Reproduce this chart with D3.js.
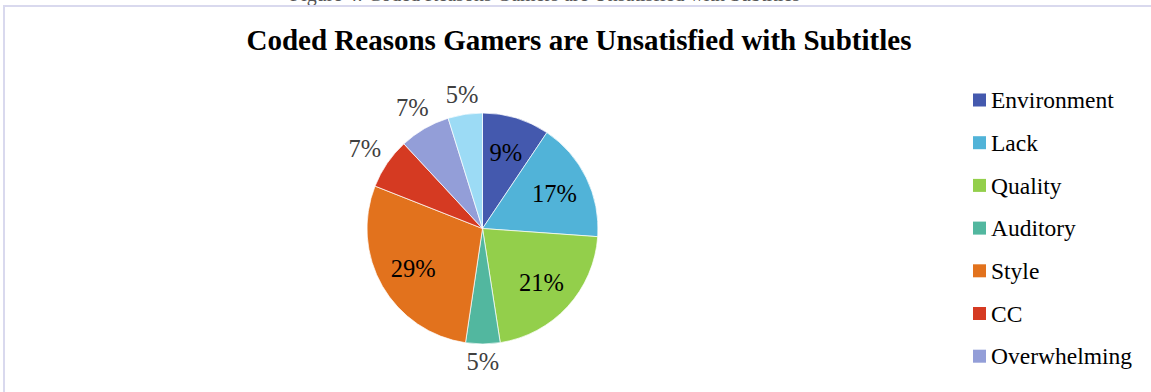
<!DOCTYPE html>
<html>
<head>
<meta charset="utf-8">
<script src="https://cdn.jsdelivr.net/npm/d3@7"></script>
<style>
  html, body { margin: 0; padding: 0; background: #fff; }
  svg { display: block; }
</style>
</head>
<body>
<svg id="chart" width="1151" height="392"></svg>
<script>
// Share of coded reasons (percent of responses)
const categories = ["Environment", "Lack", "Quality", "Auditory", "Style", "CC", "Overwhelming", "Other"];
const shares = [9.4, 16.7, 21.4, 4.8, 28.6, 7.1, 7.1, 4.8];
const colors = ["#4459ae", "#51b3d8", "#93cf4b", "#52b79f", "#e2721d", "#d53a22", "#939ed8", "#9cdbf5"];
// Slices whose percentage is written inside the pie
const insideLabels = ["Environment", "Lack", "Quality", "Style"];

const captionText = "Figure 4: Coded Reasons Gamers are Unsatisfied with Subtitles";
const titleText = "Coded Reasons Gamers are Unsatisfied with Subtitles";

const svg = d3.select("#chart");
const W = 1151, H = 392;
const serif = "'Liberation Serif', 'Times New Roman', serif";

// Caption above the chart frame (only its lower edge shows)
svg.append("text")
  .attr("x", 545).attr("y", 1)
  .attr("text-anchor", "middle")
  .attr("font-family", serif).attr("font-size", 20)
  .attr("fill", "#555")
  .text(captionText);

// Chart frame (top and left edges)
svg.append("path")
  .attr("d", `M4,${H} L4,6 L${W},6`)
  .attr("fill", "none")
  .attr("stroke", "#d9d9ee")
  .attr("stroke-width", 2);

// Title
svg.append("text")
  .attr("x", 579).attr("y", 50)
  .attr("text-anchor", "middle")
  .attr("font-family", serif).attr("font-weight", "bold").attr("font-size", 29)
  .attr("fill", "#000")
  .text(titleText);

// Pie
const cx = 482.5, cy = 228.5, R = 115.5;
const data = categories.map((c, i) => ({ cat: c, value: shares[i], color: colors[i] }));
const total = d3.sum(shares);

const pie = d3.pie().value(d => d.value).sort(null);
const arcs = pie(data);
const arc = d3.arc().innerRadius(0).outerRadius(R);

const g = svg.append("g").attr("transform", `translate(${cx},${cy})`);

g.selectAll("path.slice")
  .data(arcs)
  .join("path")
  .attr("class", "slice")
  .attr("d", arc)
  .attr("fill", d => d.data.color)
  .attr("stroke", "#fff")
  .attr("stroke-width", 0.7);

// Percentage labels
const labelSize = 24.5;
const pct = d => Math.round(d.data.value / total * 100) + "%";
const inner = d3.arc().innerRadius(80).outerRadius(80);

g.selectAll("text.pct")
  .data(arcs)
  .join("text")
  .attr("class", "pct")
  .attr("text-anchor", "middle")
  .attr("dy", "0.35em")
  .attr("font-family", serif).attr("font-size", labelSize)
  .attr("fill", d => insideLabels.includes(d.data.cat) ? "#000" : "#404040")
  .text(pct)
  .each(function (d) {
    const sel = d3.select(this);
    if (insideLabels.includes(d.data.cat)) {
      const [x, y] = inner.centroid(d);
      sel.attr("x", x).attr("y", y);
    } else {
      // Place the label box just outside the rim along the slice's mid-angle
      const a = (d.startAngle + d.endAngle) / 2;
      const w = this.getComputedTextLength();
      const h = labelSize * 0.8;
      const s = Math.sin(a), c = -Math.cos(a);
      const off = R + 8 + Math.abs(s) * w / 2 + Math.abs(c) * h / 2;
      sel.attr("x", s * off).attr("y", c * off);
    }
  });

// Legend: one row per category, as many rows as fit in the frame
const legendTop = 100, rowGap = 42.7;
const rows = data.filter((d, i) => legendTop + i * rowGap + 12 <= H);
const legend = svg.append("g").attr("transform", `translate(973,${legendTop})`);
const items = legend.selectAll("g.item")
  .data(rows)
  .join("g")
  .attr("class", "item")
  .attr("transform", (d, i) => `translate(0,${i * rowGap})`);

items.append("rect")
  .attr("x", 0).attr("y", -6.5)
  .attr("width", 13).attr("height", 13)
  .attr("fill", d => d.color);

items.append("text")
  .attr("x", 18).attr("y", 0).attr("dy", "0.35em")
  .attr("font-family", serif).attr("font-size", 23.5)
  .attr("fill", "#000")
  .text(d => d.cat);
</script>
</body>
</html>
